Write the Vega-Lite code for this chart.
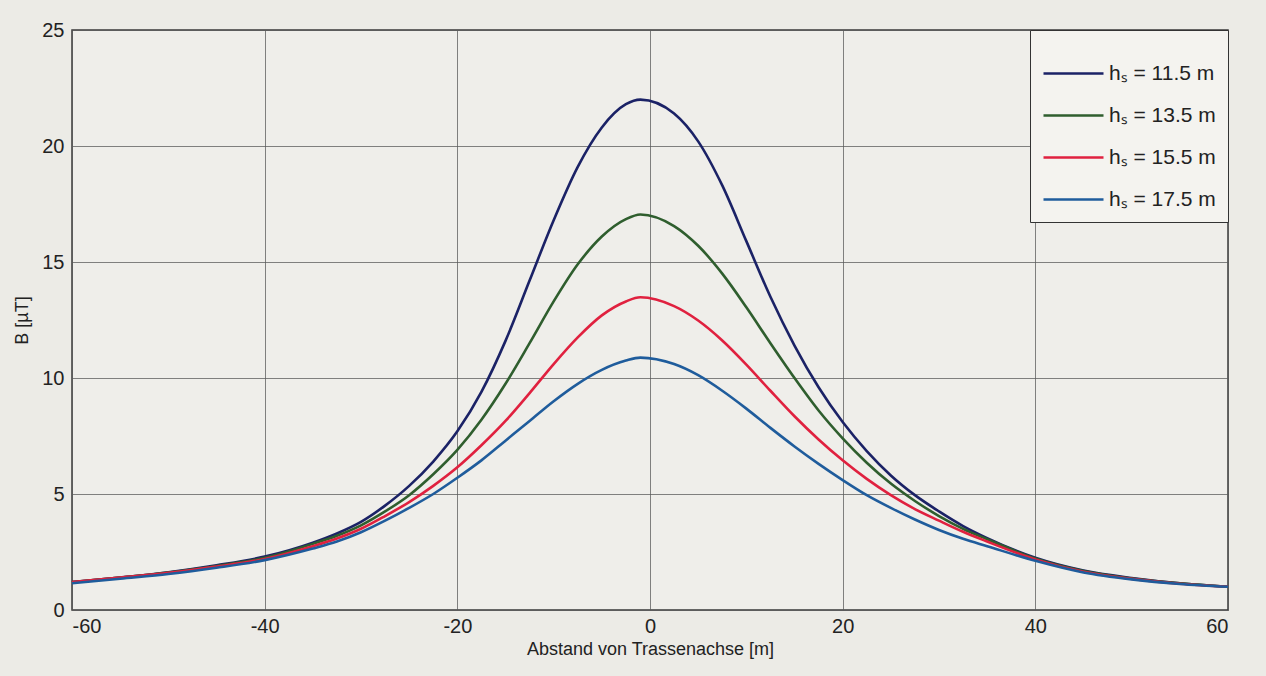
{
  "$schema": "https://vega.github.io/schema/vega-lite/v6.json",
  "autosize": {"type": "none"},
  "width": 1156,
  "height": 580,
  "padding": {"left": 72, "top": 30, "right": 38, "bottom": 66},
  "background": "#ecebe6",
  "config": {
    "view": {"stroke": "#3a3a3a", "strokeWidth": 1.5, "fill": "#efeeea"},
    "font": "Liberation Sans",
    "axis": {
      "gridColor": "#5a5a5a", "gridOpacity": 0.75, "gridWidth": 1,
      "domain": false, "ticks": false,
      "labelFont": "Liberation Sans", "labelFontSize": 20, "labelColor": "#222",
      "titleFont": "Liberation Sans", "titleFontSize": 18, "titleFontWeight": "normal", "titleColor": "#222",
      "labelExpr": "replace(datum.label, '−', '-')"
    }
  },
  "data": {"values": [
    {"x": -60, "B": 1.2, "h": "hₛ = 11.5 m"}, {"x": -55, "B": 1.4, "h": "hₛ = 11.5 m"}, {"x": -50, "B": 1.63, "h": "hₛ = 11.5 m"}, {"x": -45, "B": 1.93, "h": "hₛ = 11.5 m"}, {"x": -40, "B": 2.3, "h": "hₛ = 11.5 m"}, {"x": -35, "B": 2.9, "h": "hₛ = 11.5 m"}, {"x": -32.5, "B": 3.3, "h": "hₛ = 11.5 m"}, {"x": -30, "B": 3.8, "h": "hₛ = 11.5 m"}, {"x": -27.5, "B": 4.5, "h": "hₛ = 11.5 m"}, {"x": -25, "B": 5.35, "h": "hₛ = 11.5 m"}, {"x": -22.5, "B": 6.4, "h": "hₛ = 11.5 m"}, {"x": -20, "B": 7.7, "h": "hₛ = 11.5 m"}, {"x": -17.5, "B": 9.4, "h": "hₛ = 11.5 m"}, {"x": -15, "B": 11.6, "h": "hₛ = 11.5 m"}, {"x": -12.5, "B": 14.2, "h": "hₛ = 11.5 m"}, {"x": -10, "B": 16.8, "h": "hₛ = 11.5 m"}, {"x": -7.5, "B": 19.1, "h": "hₛ = 11.5 m"}, {"x": -5, "B": 20.8, "h": "hₛ = 11.5 m"}, {"x": -2.5, "B": 21.8, "h": "hₛ = 11.5 m"}, {"x": -1, "B": 22.0, "h": "hₛ = 11.5 m"}, {"x": 2.5, "B": 21.4, "h": "hₛ = 11.5 m"}, {"x": 5, "B": 20.2, "h": "hₛ = 11.5 m"}, {"x": 7.5, "B": 18.3, "h": "hₛ = 11.5 m"}, {"x": 10, "B": 15.9, "h": "hₛ = 11.5 m"}, {"x": 12.5, "B": 13.5, "h": "hₛ = 11.5 m"}, {"x": 15, "B": 11.4, "h": "hₛ = 11.5 m"}, {"x": 17.5, "B": 9.6, "h": "hₛ = 11.5 m"}, {"x": 20, "B": 8.1, "h": "hₛ = 11.5 m"}, {"x": 22.5, "B": 6.85, "h": "hₛ = 11.5 m"}, {"x": 25, "B": 5.8, "h": "hₛ = 11.5 m"}, {"x": 27.5, "B": 4.95, "h": "hₛ = 11.5 m"}, {"x": 30, "B": 4.25, "h": "hₛ = 11.5 m"}, {"x": 32.5, "B": 3.62, "h": "hₛ = 11.5 m"}, {"x": 35, "B": 3.1, "h": "hₛ = 11.5 m"}, {"x": 40, "B": 2.25, "h": "hₛ = 11.5 m"}, {"x": 45, "B": 1.7, "h": "hₛ = 11.5 m"}, {"x": 50, "B": 1.38, "h": "hₛ = 11.5 m"}, {"x": 55, "B": 1.15, "h": "hₛ = 11.5 m"}, {"x": 60, "B": 1.0, "h": "hₛ = 11.5 m"},

    {"x": -60, "B": 1.2, "h": "hₛ = 13.5 m"}, {"x": -55, "B": 1.4, "h": "hₛ = 13.5 m"}, {"x": -50, "B": 1.62, "h": "hₛ = 13.5 m"}, {"x": -45, "B": 1.9, "h": "hₛ = 13.5 m"}, {"x": -40, "B": 2.25, "h": "hₛ = 13.5 m"}, {"x": -35, "B": 2.85, "h": "hₛ = 13.5 m"}, {"x": -32.5, "B": 3.2, "h": "hₛ = 13.5 m"}, {"x": -30, "B": 3.65, "h": "hₛ = 13.5 m"}, {"x": -27.5, "B": 4.25, "h": "hₛ = 13.5 m"}, {"x": -25, "B": 4.95, "h": "hₛ = 13.5 m"}, {"x": -22.5, "B": 5.85, "h": "hₛ = 13.5 m"}, {"x": -20, "B": 6.9, "h": "hₛ = 13.5 m"}, {"x": -17.5, "B": 8.2, "h": "hₛ = 13.5 m"}, {"x": -15, "B": 9.75, "h": "hₛ = 13.5 m"}, {"x": -12.5, "B": 11.5, "h": "hₛ = 13.5 m"}, {"x": -10, "B": 13.3, "h": "hₛ = 13.5 m"}, {"x": -7.5, "B": 14.9, "h": "hₛ = 13.5 m"}, {"x": -5, "B": 16.1, "h": "hₛ = 13.5 m"}, {"x": -2.5, "B": 16.85, "h": "hₛ = 13.5 m"}, {"x": -1, "B": 17.05, "h": "hₛ = 13.5 m"}, {"x": 2.5, "B": 16.55, "h": "hₛ = 13.5 m"}, {"x": 5, "B": 15.7, "h": "hₛ = 13.5 m"}, {"x": 7.5, "B": 14.5, "h": "hₛ = 13.5 m"}, {"x": 10, "B": 13.05, "h": "hₛ = 13.5 m"}, {"x": 12.5, "B": 11.5, "h": "hₛ = 13.5 m"}, {"x": 15, "B": 10.0, "h": "hₛ = 13.5 m"}, {"x": 17.5, "B": 8.6, "h": "hₛ = 13.5 m"}, {"x": 20, "B": 7.4, "h": "hₛ = 13.5 m"}, {"x": 22.5, "B": 6.35, "h": "hₛ = 13.5 m"}, {"x": 25, "B": 5.45, "h": "hₛ = 13.5 m"}, {"x": 27.5, "B": 4.7, "h": "hₛ = 13.5 m"}, {"x": 30, "B": 4.05, "h": "hₛ = 13.5 m"}, {"x": 32.5, "B": 3.5, "h": "hₛ = 13.5 m"}, {"x": 35, "B": 3.05, "h": "hₛ = 13.5 m"}, {"x": 40, "B": 2.22, "h": "hₛ = 13.5 m"}, {"x": 45, "B": 1.68, "h": "hₛ = 13.5 m"}, {"x": 50, "B": 1.36, "h": "hₛ = 13.5 m"}, {"x": 55, "B": 1.15, "h": "hₛ = 13.5 m"}, {"x": 60, "B": 1.0, "h": "hₛ = 13.5 m"},

    {"x": -60, "B": 1.2, "h": "hₛ = 15.5 m"}, {"x": -55, "B": 1.4, "h": "hₛ = 15.5 m"}, {"x": -50, "B": 1.6, "h": "hₛ = 15.5 m"}, {"x": -45, "B": 1.87, "h": "hₛ = 15.5 m"}, {"x": -40, "B": 2.2, "h": "hₛ = 15.5 m"}, {"x": -35, "B": 2.75, "h": "hₛ = 15.5 m"}, {"x": -32.5, "B": 3.08, "h": "hₛ = 15.5 m"}, {"x": -30, "B": 3.5, "h": "hₛ = 15.5 m"}, {"x": -27.5, "B": 4.05, "h": "hₛ = 15.5 m"}, {"x": -25, "B": 4.65, "h": "hₛ = 15.5 m"}, {"x": -22.5, "B": 5.35, "h": "hₛ = 15.5 m"}, {"x": -20, "B": 6.15, "h": "hₛ = 15.5 m"}, {"x": -17.5, "B": 7.1, "h": "hₛ = 15.5 m"}, {"x": -15, "B": 8.15, "h": "hₛ = 15.5 m"}, {"x": -12.5, "B": 9.35, "h": "hₛ = 15.5 m"}, {"x": -10, "B": 10.6, "h": "hₛ = 15.5 m"}, {"x": -7.5, "B": 11.75, "h": "hₛ = 15.5 m"}, {"x": -5, "B": 12.7, "h": "hₛ = 15.5 m"}, {"x": -2.5, "B": 13.3, "h": "hₛ = 15.5 m"}, {"x": -1, "B": 13.48, "h": "hₛ = 15.5 m"}, {"x": 2.5, "B": 13.1, "h": "hₛ = 15.5 m"}, {"x": 5, "B": 12.48, "h": "hₛ = 15.5 m"}, {"x": 7.5, "B": 11.62, "h": "hₛ = 15.5 m"}, {"x": 10, "B": 10.58, "h": "hₛ = 15.5 m"}, {"x": 12.5, "B": 9.45, "h": "hₛ = 15.5 m"}, {"x": 15, "B": 8.35, "h": "hₛ = 15.5 m"}, {"x": 17.5, "B": 7.35, "h": "hₛ = 15.5 m"}, {"x": 20, "B": 6.45, "h": "hₛ = 15.5 m"}, {"x": 22.5, "B": 5.65, "h": "hₛ = 15.5 m"}, {"x": 25, "B": 4.95, "h": "hₛ = 15.5 m"}, {"x": 27.5, "B": 4.35, "h": "hₛ = 15.5 m"}, {"x": 30, "B": 3.85, "h": "hₛ = 15.5 m"}, {"x": 32.5, "B": 3.37, "h": "hₛ = 15.5 m"}, {"x": 35, "B": 2.95, "h": "hₛ = 15.5 m"}, {"x": 40, "B": 2.18, "h": "hₛ = 15.5 m"}, {"x": 45, "B": 1.65, "h": "hₛ = 15.5 m"}, {"x": 50, "B": 1.34, "h": "hₛ = 15.5 m"}, {"x": 55, "B": 1.13, "h": "hₛ = 15.5 m"}, {"x": 60, "B": 1.0, "h": "hₛ = 15.5 m"},

    {"x": -60, "B": 1.15, "h": "hₛ = 17.5 m"}, {"x": -55, "B": 1.35, "h": "hₛ = 17.5 m"}, {"x": -50, "B": 1.55, "h": "hₛ = 17.5 m"}, {"x": -45, "B": 1.82, "h": "hₛ = 17.5 m"}, {"x": -40, "B": 2.15, "h": "hₛ = 17.5 m"}, {"x": -35, "B": 2.65, "h": "hₛ = 17.5 m"}, {"x": -32.5, "B": 2.95, "h": "hₛ = 17.5 m"}, {"x": -30, "B": 3.35, "h": "hₛ = 17.5 m"}, {"x": -27.5, "B": 3.85, "h": "hₛ = 17.5 m"}, {"x": -25, "B": 4.4, "h": "hₛ = 17.5 m"}, {"x": -22.5, "B": 5.0, "h": "hₛ = 17.5 m"}, {"x": -20, "B": 5.7, "h": "hₛ = 17.5 m"}, {"x": -17.5, "B": 6.45, "h": "hₛ = 17.5 m"}, {"x": -15, "B": 7.3, "h": "hₛ = 17.5 m"}, {"x": -12.5, "B": 8.15, "h": "hₛ = 17.5 m"}, {"x": -10, "B": 9.0, "h": "hₛ = 17.5 m"}, {"x": -7.5, "B": 9.75, "h": "hₛ = 17.5 m"}, {"x": -5, "B": 10.35, "h": "hₛ = 17.5 m"}, {"x": -2.5, "B": 10.75, "h": "hₛ = 17.5 m"}, {"x": -1, "B": 10.88, "h": "hₛ = 17.5 m"}, {"x": 2.5, "B": 10.6, "h": "hₛ = 17.5 m"}, {"x": 5, "B": 10.12, "h": "hₛ = 17.5 m"}, {"x": 7.5, "B": 9.45, "h": "hₛ = 17.5 m"}, {"x": 10, "B": 8.68, "h": "hₛ = 17.5 m"}, {"x": 12.5, "B": 7.85, "h": "hₛ = 17.5 m"}, {"x": 15, "B": 7.05, "h": "hₛ = 17.5 m"}, {"x": 17.5, "B": 6.3, "h": "hₛ = 17.5 m"}, {"x": 20, "B": 5.6, "h": "hₛ = 17.5 m"}, {"x": 22.5, "B": 4.95, "h": "hₛ = 17.5 m"}, {"x": 25, "B": 4.4, "h": "hₛ = 17.5 m"}, {"x": 27.5, "B": 3.9, "h": "hₛ = 17.5 m"}, {"x": 30, "B": 3.45, "h": "hₛ = 17.5 m"}, {"x": 32.5, "B": 3.07, "h": "hₛ = 17.5 m"}, {"x": 35, "B": 2.75, "h": "hₛ = 17.5 m"}, {"x": 40, "B": 2.12, "h": "hₛ = 17.5 m"}, {"x": 45, "B": 1.62, "h": "hₛ = 17.5 m"}, {"x": 50, "B": 1.32, "h": "hₛ = 17.5 m"}, {"x": 55, "B": 1.12, "h": "hₛ = 17.5 m"}, {"x": 60, "B": 1.0, "h": "hₛ = 17.5 m"}
  ]},
  "mark": {"type": "line", "interpolate": "monotone", "strokeWidth": 2.6},
  "encoding": {
    "x": {
      "field": "x", "type": "quantitative",
      "scale": {"domain": [-60, 60], "nice": false},
      "axis": {"values": [-60, -40, -20, 0, 20, 40, 60], "title": "Abstand von Trassenachse [m]", "labelPadding": 6, "titlePadding": 4}
    },
    "y": {
      "field": "B", "type": "quantitative",
      "scale": {"domain": [0, 25], "nice": false},
      "axis": {"values": [0, 5, 10, 15, 20, 25], "title": "B [µT]", "labelPadding": 8, "titlePadding": 10}
    },
    "color": {
      "field": "h", "type": "nominal",
      "scale": {
        "domain": ["hₛ = 11.5 m", "hₛ = 13.5 m", "hₛ = 15.5 m", "hₛ = 17.5 m"],
        "range": ["#1b2266", "#2f5e2e", "#e0213f", "#1f5c9c"]
      },
      "legend": {
        "title": null, "orient": "top-right", "offset": 0,
        "symbolType": "stroke", "symbolSize": 3600, "symbolStrokeWidth": 2.6,
        "labelFontSize": 21, "labelColor": "#222", "labelFont": "Liberation Sans",
        "rowPadding": -18, "padding": 12,
        "fillColor": "#f4f3ef", "strokeColor": "#333"
      }
    }
  }
}
